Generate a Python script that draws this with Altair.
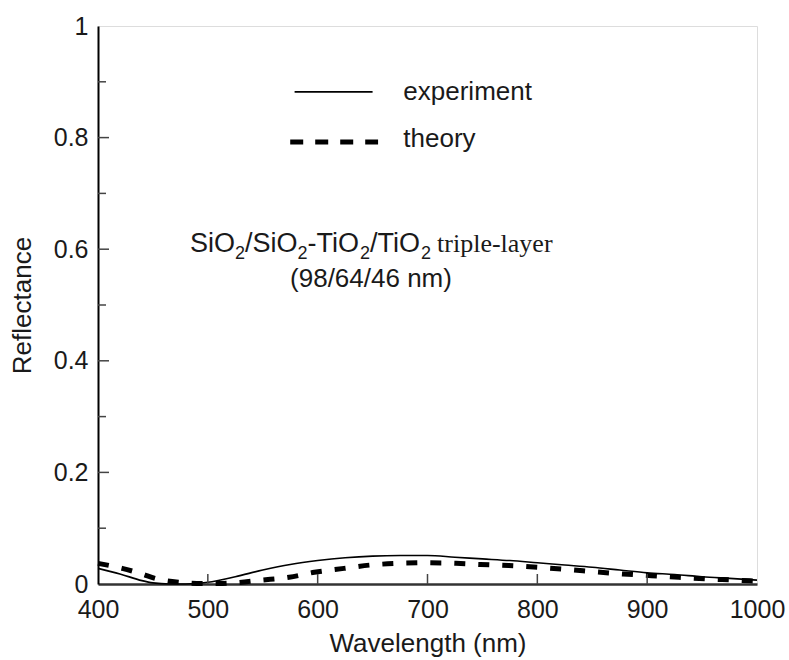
import altair as alt
import pandas as pd

# Experiment curve (solid)
exp_wl = [400, 420, 440, 450, 465, 480, 500, 525, 550, 575, 600, 625, 650, 675, 700, 725, 750, 775, 800, 825, 850, 875, 900, 925, 950, 975, 1000]
exp_r = [0.028, 0.018, 0.006, 0.002, 0.0, 0.0, 0.003, 0.013, 0.025, 0.035, 0.042, 0.047, 0.050, 0.051, 0.051, 0.048, 0.045, 0.042, 0.038, 0.034, 0.030, 0.025, 0.020, 0.017, 0.013, 0.010, 0.007]

# Theory curve (dashed)
th_wl = [400, 422, 440, 452, 475, 490, 510, 523, 549, 574, 597, 624, 648, 674, 700, 726, 748, 774, 800, 828, 852, 878, 904, 929, 955, 979, 1000]
th_r = [0.037, 0.028, 0.018, 0.010, 0.003, 0.001, 0.001, 0.002, 0.007, 0.012, 0.021, 0.028, 0.034, 0.037, 0.038, 0.037, 0.035, 0.033, 0.030, 0.026, 0.022, 0.018, 0.015, 0.012, 0.009, 0.007, 0.005]

y_major = [0.2, 0.4, 0.6, 0.8]
y_minor = [0.1, 0.3, 0.5, 0.7, 0.9]
x_major = [500, 600, 700, 800, 900]

legend_labels = ["experiment", "theory"]
note_parts = [("SiO", False), ("2", True), ("/SiO", False), ("2", True), ("-TiO", False), ("2", True),
              ("/TiO", False), ("2", True)]
note_tail = "triple-layer"
note_line2 = "(98/64/46 nm)"

W, H = 659, 558
FONT = "Liberation Sans"
TXT = "#1a1a1a"

# Liberation Sans advance widths (em) for the characters used in the note
ADV = {"S": 0.667, "i": 0.222, "O": 0.778, "/": 0.278, "-": 0.333, "T": 0.611, "2": 0.556}

exp_df = pd.DataFrame({"wl": exp_wl, "r": exp_r})
th_df = pd.DataFrame({"wl": th_wl, "r": th_r})

xs = alt.Scale(domain=[400, 1000], nice=False)
ys = alt.Scale(domain=[0, 1], nice=False)

x_axis = alt.Axis(values=[400, 500, 600, 700, 800, 900, 1000], format="d", grid=False,
                  ticks=False, labelPadding=13, labelFlush=False, labelOverlap=False,
                  title="Wavelength (nm)", titlePadding=8,
                  domainColor="#333", domainWidth=2.5, labelFontSize=25, titleFontSize=26,
                  labelFont=FONT, titleFont=FONT, labelColor=TXT, titleColor=TXT,
                  titleFontWeight="normal")
y_axis = alt.Axis(values=[0, 0.2, 0.4, 0.6, 0.8, 1], grid=False, ticks=False, labelPadding=10,
                  labelFlush=False, labelOverlap=False,
                  labelExpr="datum.value == 0 ? '0' : (datum.value == 1 ? '1' : format(datum.value, '.1f'))",
                  title="Reflectance", titlePadding=18, domainColor="black", domainWidth=2,
                  labelFontSize=25, titleFontSize=26, labelFont=FONT, titleFont=FONT,
                  labelColor=TXT, titleColor=TXT, titleFontWeight="normal")

base_exp = alt.Chart(exp_df).mark_line(color="black", strokeWidth=1.6, interpolate="monotone").encode(
    x=alt.X("wl:Q", scale=xs, axis=x_axis),
    y=alt.Y("r:Q", scale=ys, axis=y_axis),
)
base_th = alt.Chart(th_df).mark_line(color="black", strokeWidth=5, strokeDash=[11, 13],
                                     interpolate="monotone").encode(
    x=alt.X("wl:Q", scale=xs),
    y=alt.Y("r:Q", scale=ys),
)

ymaj = alt.Chart(pd.DataFrame({"v": y_major})).mark_rule(color="#444", strokeWidth=1.5).encode(
    y=alt.Y("v:Q", scale=ys), x=alt.value(0), x2=alt.value(11))
ymin = alt.Chart(pd.DataFrame({"v": y_minor})).mark_rule(color="#444", strokeWidth=1.5).encode(
    y=alt.Y("v:Q", scale=ys), x=alt.value(0), x2=alt.value(8))
xmaj = alt.Chart(pd.DataFrame({"v": x_major})).mark_rule(color="#444", strokeWidth=1.5).encode(
    x=alt.X("v:Q", scale=xs), y=alt.value(H), y2=alt.value(H - 10))

# Legend
leg_exp = alt.Chart(pd.DataFrame({"a": [579], "b": [650], "y": [0.882]})).mark_rule(
    color="black", strokeWidth=1.6).encode(x=alt.X("a:Q", scale=xs), x2="b:Q", y=alt.Y("y:Q", scale=ys))
leg_th = alt.Chart(pd.DataFrame({"a": [575], "b": [655], "y": [0.792]})).mark_rule(
    color="black", strokeWidth=5, strokeDash=[13, 12]).encode(x=alt.X("a:Q", scale=xs), x2="b:Q", y=alt.Y("y:Q", scale=ys))
leg_txt = alt.Chart(pd.DataFrame({"x": [678, 678], "y": [0.882, 0.797], "t": legend_labels})).mark_text(
    align="left", baseline="middle", fontSize=26, font=FONT, color=TXT).encode(
    x=alt.X("x:Q", scale=xs), y=alt.Y("y:Q", scale=ys), text="t:N")

# Annotation with real subscripts, built from text segments
layers = []
MAIN, SUB = 27, 18
px = 92.0          # left edge of the note inside the plot area
base_y = 226.0     # baseline of the first line inside the plot area
for txt, is_sub in note_parts:
    size = SUB if is_sub else MAIN
    layers.append(
        alt.Chart(pd.DataFrame({"t": [txt]})).mark_text(
            align="left", baseline="alphabetic", fontSize=size, font=FONT, color=TXT
        ).encode(x=alt.value(px), y=alt.value(base_y + (7 if is_sub else 0)), text="t:N")
    )
    px += sum(ADV[c] for c in txt) * size
layers.append(
    alt.Chart(pd.DataFrame({"t": [note_tail]})).mark_text(
        align="left", baseline="alphabetic", fontSize=26, font="Liberation Serif", color=TXT
    ).encode(x=alt.value(px + 6), y=alt.value(base_y), text="t:N")
)
layers.append(
    alt.Chart(pd.DataFrame({"t": [note_line2]})).mark_text(
        align="center", baseline="alphabetic", fontSize=26, font=FONT, color=TXT
    ).encode(x=alt.value(273), y=alt.value(261), text="t:N")
)

chart = alt.layer(base_exp, base_th, ymaj, ymin, xmaj, leg_exp, leg_th, leg_txt, *layers).properties(
    width=W, height=H,
    autosize=alt.AutoSizeParams(type="none"),
    padding={"left": 98, "top": 26, "right": 32, "bottom": 76},
).configure_view(stroke="#999", strokeWidth=2.5).configure(background="white")

chart.save("out.html", embed_options={"renderer": "svg", "actions": False})
